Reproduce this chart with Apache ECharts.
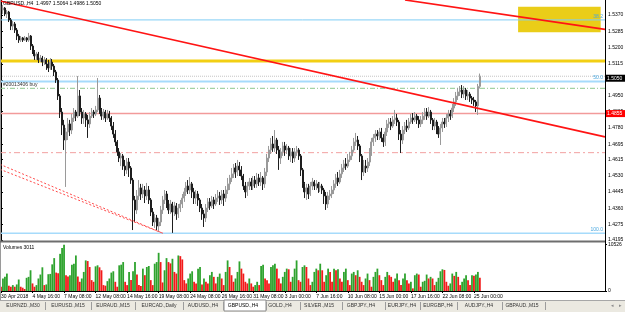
<!DOCTYPE html>
<html><head><meta charset="utf-8">
<script src="https://cdn.jsdelivr.net/npm/echarts@6/dist/echarts.min.js"></script>
<style>html,body{margin:0;padding:0;background:#fff}#c{width:625px;height:312px}</style>
</head><body><div id="c"></div>
<script>
// ---------- data ----------
const tickLabels = ['30 Apr 2018','4 May 16:00','7 May 08:00','12 May 08:00','14 May 16:00','19 May 08:00','24 May 08:00','26 May 16:00','31 May 08:00','3 Jun 00:00','7 Jun 16:00','10 Jun 08:00','15 Jun 00:00','17 Jun 16:00','22 Jun 08:00','25 Jun 00:00'];
const priceTicks = [1.5370,1.5285,1.5200,1.5115,1.5030,1.4950,1.4865,1.4780,1.4695,1.4615,1.4530,1.4445,1.4360,1.4275,1.4195];
const volTicks = [0,10526];

const opens = [
1.5417,1.5396,1.5406,1.5375,1.5385,1.5344,1.5312,1.5323,1.5291,1.5260,
1.5239,1.5250,1.5239,1.5250,1.5239,1.5260,1.5208,1.5177,1.5156,1.5166,
1.5135,1.5145,1.5124,1.5135,1.5114,1.5093,1.5124,1.5103,1.5072,1.5030,
1.4947,1.4863,1.4795,1.4717,1.4759,1.4801,1.4769,1.4832,1.4863,1.4842,
1.4947,1.4863,1.4832,1.4853,1.4822,1.4801,1.4842,1.4863,1.4853,1.4874,
1.4936,1.4874,1.4842,1.4863,1.4832,1.4853,1.4832,1.4790,1.4748,1.4707,
1.4655,1.4623,1.4634,1.4581,1.4561,1.4602,1.4571,1.4508,1.4404,1.4352,
1.4425,1.4467,1.4435,1.4456,1.4425,1.4456,1.4404,1.4341,1.4289,1.4310,
1.4268,1.4289,1.4352,1.4404,1.4435,1.4383,1.4352,1.4383,1.4341,1.4373,
1.4331,1.4362,1.4383,1.4414,1.4446,1.4477,1.4456,1.4488,1.4446,1.4414,
1.4435,1.4404,1.4362,1.4331,1.4310,1.4362,1.4394,1.4373,1.4404,1.4383,
1.4414,1.4425,1.4404,1.4435,1.4414,1.4456,1.4488,1.4519,1.4540,1.4571,
1.4550,1.4581,1.4561,1.4529,1.4477,1.4446,1.4477,1.4498,1.4477,1.4508,
1.4488,1.4519,1.4498,1.4519,1.4488,1.4550,1.4623,1.4665,1.4696,1.4675,
1.4717,1.4665,1.4623,1.4655,1.4686,1.4665,1.4675,1.4634,1.4655,1.4623,
1.4655,1.4665,1.4634,1.4561,1.4488,1.4446,1.4467,1.4435,1.4477,1.4498,
1.4477,1.4488,1.4467,1.4477,1.4456,1.4425,1.4383,1.4425,1.4435,1.4456,
1.4488,1.4519,1.4498,1.4540,1.4571,1.4592,1.4581,1.4613,1.4634,1.4665,
1.4707,1.4717,1.4686,1.4634,1.4550,1.4581,1.4571,1.4602,1.4655,1.4707,
1.4728,1.4748,1.4738,1.4759,1.4728,1.4707,1.4759,1.4801,1.4811,1.4790,
1.4822,1.4832,1.4811,1.4748,1.4717,1.4769,1.4790,1.4780,1.4811,1.4832,
1.4822,1.4842,1.4822,1.4801,1.4822,1.4842,1.4863,1.4842,1.4863,1.4822,
1.4790,1.4811,1.4769,1.4748,1.4780,1.4811,1.4801,1.4832,1.4853,1.4842,
1.4884,1.4916,1.4947,1.4968,1.4978,1.4957,1.4978,1.4947,1.4957,1.4936,
1.4926,1.4916,1.4895,1.4997];

const highs = [
1.5432,1.5422,1.5411,1.5396,1.5391,1.5354,1.5338,1.5333,1.5302,1.5271,
1.5260,1.5255,1.5260,1.5255,1.5276,1.5265,1.5218,1.5187,1.5177,1.5177,
1.5161,1.5156,1.5150,1.5145,1.5135,1.5145,1.5140,1.5114,1.5083,1.5041,
1.4957,1.4884,1.4822,1.4780,1.4832,1.4822,1.4853,1.4884,1.4874,1.5051,
1.4978,1.4884,1.4874,1.4863,1.4848,1.4863,1.4884,1.4874,1.4895,1.5041,
1.4952,1.4884,1.4879,1.4874,1.4874,1.4869,1.4842,1.4811,1.4769,1.4717,
1.4675,1.4649,1.4644,1.4613,1.4623,1.4623,1.4581,1.4519,1.4425,1.4456,
1.4508,1.4488,1.4488,1.4477,1.4493,1.4477,1.4414,1.4362,1.4331,1.4326,
1.4310,1.4373,1.4425,1.4456,1.4451,1.4404,1.4404,1.4394,1.4394,1.4388,
1.4383,1.4404,1.4435,1.4467,1.4498,1.4508,1.4524,1.4498,1.4467,1.4456,
1.4451,1.4414,1.4383,1.4352,1.4383,1.4414,1.4414,1.4425,1.4420,1.4435,
1.4456,1.4446,1.4456,1.4456,1.4477,1.4519,1.4535,1.4571,1.4592,1.4597,
1.4613,1.4602,1.4581,1.4540,1.4498,1.4498,1.4519,1.4519,1.4529,1.4529,
1.4545,1.4540,1.4550,1.4529,1.4571,1.4644,1.4686,1.4728,1.4738,1.4769,
1.4728,1.4686,1.4675,1.4707,1.4707,1.4696,1.4686,1.4675,1.4675,1.4675,
1.4686,1.4675,1.4644,1.4571,1.4498,1.4488,1.4488,1.4498,1.4519,1.4508,
1.4508,1.4498,1.4498,1.4488,1.4467,1.4446,1.4446,1.4456,1.4477,1.4508,
1.4540,1.4550,1.4561,1.4592,1.4613,1.4623,1.4644,1.4655,1.4686,1.4728,
1.4754,1.4738,1.4696,1.4644,1.4613,1.4613,1.4623,1.4675,1.4728,1.4748,
1.4769,1.4769,1.4780,1.4780,1.4748,1.4780,1.4822,1.4832,1.4832,1.4842,
1.4874,1.4853,1.4822,1.4769,1.4790,1.4811,1.4822,1.4832,1.4853,1.4858,
1.4863,1.4853,1.4842,1.4842,1.4863,1.4884,1.4884,1.4889,1.4874,1.4832,
1.4832,1.4822,1.4790,1.4801,1.4832,1.4832,1.4853,1.4874,1.4874,1.4905,
1.4936,1.4968,1.4989,1.4999,1.5004,1.4999,1.4989,1.4978,1.4968,1.4947,
1.4942,1.4926,1.5010,1.5064];

const lows = [
1.5385,1.5375,1.5364,1.5354,1.5333,1.5291,1.5291,1.5276,1.5239,1.5224,
1.5229,1.5229,1.5234,1.5229,1.5229,1.5187,1.5166,1.5135,1.5135,1.5119,
1.5124,1.5103,1.5109,1.5083,1.5072,1.5083,1.5083,1.5051,1.5015,1.4926,
1.4832,1.4743,1.4665,1.4472,1.4717,1.4738,1.4748,1.4811,1.4816,1.4832,
1.4842,1.4801,1.4801,1.4785,1.4728,1.4780,1.4832,1.4832,1.4842,1.4863,
1.4853,1.4822,1.4822,1.4811,1.4822,1.4811,1.4769,1.4728,1.4686,1.4634,
1.4602,1.4581,1.4561,1.4529,1.4540,1.4524,1.4488,1.4247,1.4289,1.4331,
1.4404,1.4404,1.4414,1.4388,1.4404,1.4383,1.4320,1.4268,1.4258,1.4247,
1.4237,1.4268,1.4331,1.4383,1.4362,1.4331,1.4331,1.4232,1.4320,1.4300,
1.4310,1.4341,1.4362,1.4394,1.4425,1.4435,1.4435,1.4414,1.4383,1.4383,
1.4373,1.4341,1.4300,1.4263,1.4289,1.4341,1.4352,1.4362,1.4357,1.4373,
1.4394,1.4378,1.4383,1.4373,1.4394,1.4435,1.4456,1.4498,1.4519,1.4519,
1.4529,1.4529,1.4508,1.4456,1.4414,1.4425,1.4456,1.4456,1.4456,1.4467,
1.4467,1.4477,1.4477,1.4456,1.4467,1.4529,1.4602,1.4644,1.4655,1.4655,
1.4644,1.4561,1.4592,1.4634,1.4634,1.4644,1.4613,1.4602,1.4597,1.4602,
1.4634,1.4613,1.4529,1.4467,1.4414,1.4404,1.4409,1.4425,1.4456,1.4456,
1.4456,1.4441,1.4446,1.4435,1.4383,1.4352,1.4362,1.4404,1.4414,1.4435,
1.4467,1.4477,1.4488,1.4519,1.4550,1.4561,1.4571,1.4602,1.4613,1.4655,
1.4686,1.4665,1.4602,1.4508,1.4529,1.4545,1.4550,1.4581,1.4634,1.4686,
1.4707,1.4717,1.4717,1.4707,1.4681,1.4686,1.4738,1.4780,1.4769,1.4780,
1.4801,1.4790,1.4717,1.4649,1.4696,1.4748,1.4759,1.4769,1.4801,1.4801,
1.4811,1.4801,1.4780,1.4785,1.4801,1.4822,1.4822,1.4832,1.4801,1.4769,
1.4769,1.4748,1.4728,1.4691,1.4759,1.4780,1.4785,1.4811,1.4822,1.4832,
1.4863,1.4895,1.4926,1.4947,1.4936,1.4936,1.4926,1.4926,1.4916,1.4905,
1.4895,1.4863,1.4848,1.4986];

const closes = [
1.5396,1.5406,1.5375,1.5385,1.5344,1.5312,1.5323,1.5291,1.5260,1.5239,
1.5250,1.5239,1.5250,1.5239,1.5260,1.5208,1.5177,1.5156,1.5166,1.5135,
1.5145,1.5124,1.5135,1.5114,1.5093,1.5124,1.5103,1.5072,1.5030,1.4947,
1.4863,1.4795,1.4717,1.4759,1.4801,1.4769,1.4832,1.4863,1.4842,1.4947,
1.4863,1.4832,1.4853,1.4822,1.4801,1.4842,1.4863,1.4853,1.4874,1.4936,
1.4874,1.4842,1.4863,1.4832,1.4853,1.4832,1.4790,1.4748,1.4707,1.4655,
1.4623,1.4634,1.4581,1.4561,1.4602,1.4571,1.4508,1.4404,1.4352,1.4425,
1.4467,1.4435,1.4456,1.4425,1.4456,1.4404,1.4341,1.4289,1.4310,1.4268,
1.4289,1.4352,1.4404,1.4435,1.4383,1.4352,1.4383,1.4341,1.4373,1.4331,
1.4362,1.4383,1.4414,1.4446,1.4477,1.4456,1.4488,1.4446,1.4414,1.4435,
1.4404,1.4362,1.4331,1.4310,1.4362,1.4394,1.4373,1.4404,1.4383,1.4414,
1.4425,1.4404,1.4435,1.4414,1.4456,1.4488,1.4519,1.4540,1.4571,1.4550,
1.4581,1.4561,1.4529,1.4477,1.4446,1.4477,1.4498,1.4477,1.4508,1.4488,
1.4519,1.4498,1.4519,1.4488,1.4550,1.4623,1.4665,1.4696,1.4675,1.4717,
1.4665,1.4623,1.4655,1.4686,1.4665,1.4675,1.4634,1.4655,1.4623,1.4655,
1.4665,1.4634,1.4561,1.4488,1.4446,1.4467,1.4435,1.4477,1.4498,1.4477,
1.4488,1.4467,1.4477,1.4456,1.4425,1.4383,1.4425,1.4435,1.4456,1.4488,
1.4519,1.4498,1.4540,1.4571,1.4592,1.4581,1.4613,1.4634,1.4665,1.4707,
1.4717,1.4686,1.4634,1.4550,1.4581,1.4571,1.4602,1.4655,1.4707,1.4728,
1.4748,1.4738,1.4759,1.4728,1.4707,1.4759,1.4801,1.4811,1.4790,1.4822,
1.4832,1.4811,1.4748,1.4717,1.4769,1.4790,1.4780,1.4811,1.4832,1.4822,
1.4842,1.4822,1.4801,1.4822,1.4842,1.4863,1.4842,1.4863,1.4822,1.4790,
1.4811,1.4769,1.4748,1.4780,1.4811,1.4801,1.4832,1.4853,1.4842,1.4884,
1.4916,1.4947,1.4968,1.4978,1.4957,1.4978,1.4947,1.4957,1.4936,1.4926,
1.4916,1.4895,1.4997,1.5050];

const volumes = [
970,2840,3210,3960,1200,970,1340,970,1490,2610,
970,750,450,2990,3210,4710,1720,970,1340,2840,
3740,5380,1340,1490,3810,3880,6050,7470,4180,4030,
8440,9790,10526,3590,3290,3590,5980,6200,8070,3290,
2090,2840,4330,6950,6800,5450,2470,2090,5600,5830,
5380,4710,1340,1200,2240,2840,4180,4480,2090,970,
5830,5980,6570,2090,1340,4330,2470,4480,6570,3740,
1340,1120,5080,3590,5450,5680,2470,1340,6200,6570,
8670,6570,1940,4710,7470,6570,6270,7320,4330,3960,
8070,7920,7170,2470,1720,2840,3960,4480,2090,1720,
5080,5450,1490,2840,2090,
1718,3586,4333,3212,1718,3212,3959,2839,1345,4333,
6947,5453,3586,2092,2839,4333,6723,5080,3959,2092,
1718,2839,1718,971,1345,2092,1345,5677,5976,2839,
2465,1718,5453,5827,6200,5080,2839,1718,3212,4333,
5080,4930,2092,3212,5080,6947,2465,2092,5453,5827,
5453,2839,1345,2092,4333,5080,4706,6200,4706,2092,
3586,5080,4333,2092,5080,4706,4930,2839,2092,4333,
5080,2465,1345,3959,4333,3586,4706,3212,2092,1345,
2839,3959,2465,971,3212,4333,5080,3586,2465,1345,
3212,4333,3586,3212,2092,2839,3959,2465,1345,2839,
3959,2465,1718,
2092,598,3586,3959,3735,971,2092,2316,3735,2839,
3212,2839,1345,2092,2988,4482,4930,4781,2092,1195,
1718,3959,3436,4333,3212,1345,2092,2839,3586,2465,
1345,3586,3436,3735,4333,3011];

// horizontal levels (prices)
const fibLevels = [1.5344, 1.5022, 1.4230];
const fibNames  = ['38.2', '50.0', '100.0'];
const goldLevel = 1.5129;
const bidPrice  = 1.5050;
const orderPrice = 1.4987;
const orderName = '#20013406 buy';
const redLevel  = 1.4855;
const stopLevel = 1.4651;

// trend objects: [bar index, price]
const trendA  = [[-0.5, 1.5443], [306.5, 1.4733]];
const trendB  = [[205.0, 1.5448], [306.5, 1.5295]];
const dotted1 = [[-0.5, 1.4590], [82.2, 1.4230]];
const dotted2 = [[-0.5, 1.4564], [82.2, 1.4230]];
const zoneBox = [[262.4, 1.5413], [304.3, 1.5279]];

const titleText = 'GBPUSD.,H4  1.4997 1.5064 1.4986 1.5050';
const volTitle = 'Volumes 3011';
const tabs = ['EURNZD.,M30','EURUSD.,M15','EURAUD.,M15','EURCAD.,Daily','AUDUSD.,H4','GBPUSD.,H4','GOLD.,H4','SILVER.,M15','GBPJPY.,H4','EURJPY.,H4','EURGBP.,H4','AUDJPY.,H4','GBPAUD.,M15'];
const activeTab = 'GBPUSD.,H4';

// ---------- build ----------
const SLOTS = 307;            // visible bar slots incl. right chart shift
const FONT = 'Liberation Sans';
const cats = Array.from({length: SLOTS}, (_, i) => String(i));
const candleData = opens.map((o, i) => [o, closes[i], lows[i], highs[i]]);
const GREEN = '#2ea32e', RED = '#f21a1a';
const volData = volumes.map((v, i) => ({value: v, itemStyle: {color: (i > 0 && v > volumes[i - 1]) ? GREEN : RED}}));
const showTick = (i) => i % 16 === 0 && i / 16 < tickLabels.length;

const lineSeries = (data, color, width, type, z) => ({
  type: 'line', xAxisIndex: 2, yAxisIndex: 0, data, symbol: 'none', silent: true, clip: true,
  lineStyle: {color, width, type}, z: z || 4
});
const levelSeries = (v, color, width, type) => lineSeries([[-0.5, v], [SLOTS - 0.5, v]], color, width, type, 3);

const tabCenters = [23,68,113,159,203,243,280,319,361,402,438,479,522];
const tabSeps = [45,91,135,183,223,266,300,342,385,420,457,502,545];

const graphic = [
  {type: 'line', shape: {x1: 0.5, y1: 0, x2: 0.5, y2: 300}, style: {stroke: '#9a9a9a', lineWidth: 1}, z: 100},
  {type: 'rect', shape: {x: 0, y: 240.5, width: 606, height: 2}, style: {fill: '#6e6e6e'}, z: 100},
  {type: 'line', shape: {x1: 605.5, y1: 0, x2: 605.5, y2: 291}, style: {stroke: '#000', lineWidth: 1}, z: 100},
  {type: 'text', x: 3, y: 1, style: {text: titleText, fontSize: 5, fontFamily: FONT, fill: '#000', verticalAlign: 'top'}, z: 100},
  {type: 'text', x: 3, y: 245, style: {text: volTitle, fontSize: 5, fontFamily: FONT, fill: '#000', verticalAlign: 'top'}, z: 100},
  {type: 'rect', shape: {x: 0, y: 300, width: 625, height: 12}, style: {fill: '#ebe9e1'}, z: 100},
  {type: 'line', shape: {x1: 0, y1: 300.5, x2: 625, y2: 300.5}, style: {stroke: '#a7a7a7', lineWidth: 1}, z: 101},
  {type: 'rect', shape: {x: 224, y: 300, width: 42, height: 11}, style: {fill: '#fff', stroke: '#8a8a8a', lineWidth: 1}, z: 101},
  {type: 'text', x: 612, y: 306, style: {text: '\u25C2', fontSize: 5, fill: '#8a8a8a', align: 'center', verticalAlign: 'middle'}, z: 102},
  {type: 'text', x: 620, y: 306, style: {text: '\u25B8', fontSize: 5, fill: '#8a8a8a', align: 'center', verticalAlign: 'middle'}, z: 102}
];
tabSeps.forEach(x => graphic.push({type: 'line', shape: {x1: x + 0.5, y1: 302, x2: x + 0.5, y2: 310}, style: {stroke: '#9c9c9c', lineWidth: 1}, z: 101}));
tabs.forEach((t, k) => graphic.push({type: 'text', x: tabCenters[k], y: 306, style: {text: t, fontSize: 5, fontFamily: FONT, fill: t === activeTab ? '#000' : '#333', align: 'center', verticalAlign: 'middle'}, z: 102}));

const option = {
  animation: false,
  backgroundColor: '#fff',
  textStyle: {fontFamily: FONT},
  grid: [
    {left: 0, top: 0, width: 605, height: 240, outerBoundsMode: 'none', containLabel: false},
    {left: 0, top: 243, width: 605, height: 48, outerBoundsMode: 'none', containLabel: false}
  ],
  xAxis: [
    {type: 'category', gridIndex: 0, data: cats, boundaryGap: true, show: false},
    {type: 'category', gridIndex: 1, data: cats, boundaryGap: true,
      axisLine: {show: true, lineStyle: {color: '#000', width: 1}},
      axisTick: {show: true, alignWithLabel: true, interval: showTick, length: 2, lineStyle: {color: '#000'}},
      axisLabel: {interval: showTick, formatter: (v, i) => tickLabels[i / 16] || '', align: 'left', fontSize: 5, color: '#000', margin: 3, fontFamily: FONT},
      splitLine: {show: false}},
    {type: 'value', gridIndex: 0, min: -0.5, max: SLOTS - 0.5, show: false}
  ],
  yAxis: [
    {type: 'value', gridIndex: 0, position: 'right', min: 1.4195, max: 1.5448,
      splitLine: {show: false},
      axisLine: {show: true, lineStyle: {color: '#000'}},
      axisTick: {show: true, length: 2, customValues: priceTicks, lineStyle: {color: '#000'}},
      axisLabel: {customValues: priceTicks, formatter: v => v.toFixed(4), fontSize: 5, color: '#000', margin: 3, fontFamily: FONT}},
    {type: 'value', gridIndex: 1, position: 'right', min: 0, max: 10900,
      splitLine: {show: false},
      axisLine: {show: true, lineStyle: {color: '#000'}},
      axisTick: {show: true, length: 2, customValues: volTicks, lineStyle: {color: '#000'}},
      axisLabel: {customValues: volTicks, formatter: v => String(v), fontSize: 5, color: '#000', margin: 3, fontFamily: FONT}}
  ],
  series: [
    Object.assign(lineSeries([zoneBox[0], zoneBox[1]], 'rgba(0,0,0,0)', 0, 'solid', 1), {
      markArea: {silent: true, itemStyle: {color: '#eacd18'}, data: [[{coord: zoneBox[0]}, {coord: zoneBox[1]}]]}
    }),
    levelSeries(fibLevels[0], '#7fcdf5', 1, 'solid'),
    levelSeries(goldLevel, '#f2cf14', 3, 'solid'),
    levelSeries(bidPrice, '#c4c4c4', 1, [1, 1]),
    levelSeries(fibLevels[1], '#a6dbfb', 2, 'solid'),
    levelSeries(orderPrice, '#8cc98c', 1, [5, 2, 1, 2]),
    levelSeries(redLevel, '#f29a9a', 1.5, 'solid'),
    levelSeries(stopLevel, '#f2a0a0', 1, [6, 3, 2, 3]),
    levelSeries(fibLevels[2], '#a6dbfb', 1.5, 'solid'),
    {type: 'candlestick', xAxisIndex: 0, yAxisIndex: 0, data: candleData, barWidth: 1.5, silent: true, z: 3,
      itemStyle: {color: '#d2d2d2', color0: '#1e1e1e', borderColor: '#9a9a9a', borderColor0: '#1e1e1e', borderWidth: 1}},
    {type: 'bar', xAxisIndex: 1, yAxisIndex: 1, data: volData, barWidth: 1.8, silent: true},
    lineSeries(trendA, '#ff1414', 1.7, 'solid'),
    lineSeries(trendB, '#ff1414', 1.7, 'solid'),
    lineSeries(dotted1, '#ff4a4a', 1, [2, 2]),
    lineSeries(dotted2, '#ff4a4a', 1, [2, 2])
  ],
  graphic
};
const chart = echarts.init(document.getElementById('c'), null, {renderer: 'canvas'});
chart.setOption(option);

// labels attached to the levels, positioned through the price scale
const yPix = v => chart.convertToPixel({yAxisIndex: 0}, v);
const xRight = chart.convertToPixel({xAxisIndex: 2}, SLOTS - 0.5);
const extra = [];
fibLevels.forEach((v, k) => extra.push({type: 'text', x: xRight - 2, y: yPix(v) - 1, z: 110,
  style: {text: fibNames[k], fontSize: 5, fontFamily: FONT, fill: '#4aa8e0', align: 'right', verticalAlign: 'bottom'}}));
extra.push({type: 'text', x: 3, y: yPix(orderPrice) - 1, z: 110,
  style: {text: orderName, fontSize: 5, fontFamily: FONT, fill: '#333', align: 'left', verticalAlign: 'bottom'}});
extra.push({type: 'text', x: xRight + 1, y: yPix(bidPrice) + 2, z: 110,
  style: {text: bidPrice.toFixed(4), fontSize: 5, fontFamily: FONT, fill: '#fff', backgroundColor: '#000', padding: [1, 3, 1, 1], align: 'left', verticalAlign: 'middle'}});
extra.push({type: 'text', x: xRight + 1, y: yPix(redLevel), z: 110,
  style: {text: redLevel.toFixed(4), fontSize: 5, fontFamily: FONT, fill: '#fff', backgroundColor: '#ff0000', padding: [1, 3, 1, 1], align: 'left', verticalAlign: 'middle'}});
chart.setOption({graphic: graphic.concat(extra)});
</script>
</body></html>
